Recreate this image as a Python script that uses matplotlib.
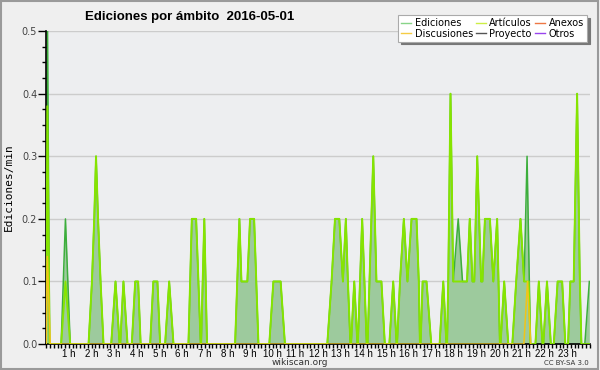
import matplotlib
matplotlib.use("Agg")
import matplotlib.pyplot as plt
from matplotlib.lines import Line2D
from matplotlib.patches import Rectangle
from matplotlib.ticker import MultipleLocator, FixedLocator

# horas (vertices de la curva) y ediciones/min
horas = [
    0.0, 0.05, 0.15,
    0.66, 0.85, 1.06,
    1.87, 2.02, 2.12, 2.2, 2.29, 2.4, 2.53,
    2.87, 3.06, 3.24,
    3.27, 3.41, 3.59,
    3.78, 3.93, 4.06, 4.17,
    4.59, 4.73, 4.91, 5.03,
    5.25, 5.43, 5.62,
    6.28, 6.43, 6.62, 6.82,
    6.84, 6.98, 7.1,
    8.34, 8.53, 8.62, 8.88, 9.0, 9.18, 9.37,
    9.85, 10.03, 10.35, 10.54,
    12.41, 12.6, 12.75, 12.94, 13.1, 13.23, 13.32, 13.43,
    13.46, 13.6, 13.74,
    13.76, 13.95, 14.15,
    14.19, 14.44, 14.58, 14.8, 14.95,
    15.15, 15.32, 15.47,
    15.49, 15.62, 15.79, 15.95, 16.13, 16.35, 16.45, 16.5,
    16.53, 16.62, 16.79, 17.0,
    17.37, 17.53, 17.67,
    17.7, 17.75, 17.85, 17.97, 18.19, 18.38, 18.58, 18.7, 18.82, 18.9,
    19.03, 19.2, 19.26, 19.37, 19.59, 19.74, 19.91, 20.03,
    20.06, 20.22, 20.4,
    20.58, 20.75, 20.94, 21.1, 21.23, 21.3, 21.38,
    21.6, 21.75, 21.91,
    21.95, 22.11, 22.28,
    22.41, 22.58, 22.78, 22.92,
    23.04, 23.14, 23.29, 23.44, 23.56, 23.63,
    23.78, 23.98,
]
ediciones = [
    0, 0.55, 0,
    0, 0.2, 0,
    0, 0.1, 0.2, 0.3, 0.2, 0.1, 0,
    0, 0.1, 0,
    0, 0.1, 0,
    0, 0.1, 0.1, 0,
    0, 0.1, 0.1, 0,
    0, 0.1, 0,
    0, 0.2, 0.2, 0,
    0, 0.2, 0,
    0, 0.2, 0.1, 0.1, 0.2, 0.2, 0,
    0, 0.1, 0.1, 0,
    0, 0.1, 0.2, 0.2, 0.1, 0.2, 0.1, 0,
    0, 0.1, 0,
    0, 0.2, 0,
    0, 0.3, 0.1, 0.1, 0,
    0, 0.1, 0,
    0, 0.1, 0.2, 0.1, 0.2, 0.2, 0.1, 0,
    0, 0.1, 0.1, 0,
    0, 0.1, 0,
    0, 0.1, 0.4, 0.1, 0.2, 0.1, 0.1, 0.2, 0.1, 0.1,
    0.3, 0.1, 0.1, 0.2, 0.2, 0.1, 0.2, 0,
    0, 0.1, 0,
    0, 0.1, 0.2, 0.1, 0.3, 0.16, 0,
    0, 0.1, 0,
    0, 0.1, 0,
    0, 0.1, 0.1, 0,
    0, 0.1, 0.1, 0.4, 0.1, 0,
    0, 0.1,
]
articulos = [
    0, 0.38, 0,
    0, 0.1, 0,
    0, 0.1, 0.2, 0.3, 0.2, 0.1, 0,
    0, 0.1, 0,
    0, 0.1, 0,
    0, 0.1, 0.1, 0,
    0, 0.1, 0.1, 0,
    0, 0.1, 0,
    0, 0.2, 0.2, 0,
    0, 0.2, 0,
    0, 0.2, 0.1, 0.1, 0.2, 0.2, 0,
    0, 0.1, 0.1, 0,
    0, 0.1, 0.2, 0.2, 0.1, 0.2, 0.1, 0,
    0, 0.1, 0,
    0, 0.2, 0,
    0, 0.3, 0.1, 0.1, 0,
    0, 0.1, 0,
    0, 0.1, 0.2, 0.1, 0.2, 0.2, 0.1, 0,
    0, 0.1, 0.1, 0,
    0, 0.1, 0,
    0, 0.1, 0.4, 0.1, 0.1, 0.1, 0.1, 0.2, 0.1, 0.1,
    0.3, 0.1, 0.1, 0.2, 0.2, 0.1, 0.2, 0,
    0, 0.1, 0,
    0, 0.1, 0.2, 0.1, 0.1, 0.1, 0,
    0, 0.1, 0,
    0, 0.1, 0,
    0, 0.1, 0.1, 0,
    0, 0.1, 0.1, 0.4, 0.1, 0,
    0, 0,
]
horas_disc = [0.0, 0.05, 0.18, 21.09, 21.25, 21.39]
discusiones = [0, 0.14, 0, 0, 0.1, 0]

assert len(horas) == len(ediciones) == len(articulos)

etiquetas_x = [f"{h} h" for h in range(1, 24)]

fig = plt.figure(figsize=(6, 3.7), dpi=100, facecolor="#efefef")
ax = fig.add_axes([0.077, 0.070, 0.906, 0.846])
ax.set_facecolor("#edeef0")

# grid horizontal
for v in [0.1, 0.2, 0.3, 0.4, 0.5]:
    ax.axhline(v, color="#cccccc", lw=1, zorder=0)

ax.fill_between(horas, ediciones, color="#9dca9d", lw=0, zorder=1)
ax.plot(horas, ediciones, color="#3cae3c", lw=1.1, zorder=2)
ax.plot(horas, articulos, color="#86e400", lw=1.4, zorder=3)
ax.plot(horas_disc, discusiones, color="#f0c419", lw=1.1, zorder=4)

ax.set_xlim(0, 24)
ax.set_ylim(0, 0.5)

ax.xaxis.set_major_locator(FixedLocator(range(1, 24)))
ax.xaxis.set_minor_locator(MultipleLocator(1 / 6))
ax.set_xticklabels(etiquetas_x, family="Liberation Sans")
ax.yaxis.set_major_locator(MultipleLocator(0.1))
ax.yaxis.set_minor_locator(MultipleLocator(0.025))
ax.yaxis.set_major_formatter(plt.FormatStrFormatter("%.1f"))

ax.tick_params(axis="x", which="both", length=3, width=1, pad=0.5,
               labelsize=7, colors="black")
ax.tick_params(axis="y", which="major", length=5.5, width=1, pad=1,
               labelsize=7, labelcolor="#444444")
ax.tick_params(axis="y", which="minor", length=3, width=1)

for s in ["top", "right"]:
    ax.spines[s].set_visible(False)
for s in ["left", "bottom"]:
    ax.spines[s].set_linewidth(1.2)

ax.set_ylabel("Ediciones/min", family="DejaVu Sans Mono", fontsize=8, labelpad=6)

fig.text(0.142, 0.955, "Ediciones por ámbito  2016-05-01", fontsize=9.5,
         family="Liberation Sans", fontweight="bold", va="center", ha="left")

fig.text(0.5, 0.020, "wikiscan.org", fontsize=6.5, ha="center", va="center",
         color="#333333")
fig.text(0.982, 0.020, "CC BY-SA 3.0", fontsize=5, ha="right", va="center",
         color="#333333")

# leyenda
handles = [
    Line2D([], [], color="#88d488", lw=1),
    Line2D([], [], color="#f5cc44", lw=1),
    Line2D([], [], color="#ccee44", lw=1),
    Line2D([], [], color="#555555", lw=1),
    Line2D([], [], color="#ee7744", lw=1),
    Line2D([], [], color="#9944ee", lw=1),
]
nombres = ["Ediciones", "Discusiones", "Artículos", "Proyecto", "Anexos", "Otros"]
leg = fig.legend(handles, nombres, ncol=3, loc="upper right",
                 bbox_to_anchor=(0.986, 0.972), fontsize=7, frameon=True,
                 fancybox=False, shadow={"color": "#777777", "alpha": 1},
                 handlelength=1.0, handletextpad=0.4, columnspacing=0.3,
                 labelspacing=0.05, borderpad=0.3)
leg.get_frame().set_edgecolor("#aaaaaa")
leg.get_frame().set_linewidth(0.8)

fig.add_artist(Rectangle((0.002, 0.003), 0.995, 0.994, transform=fig.transFigure,
                         fill=False, edgecolor="#9a9a9a", lw=1.5))

fig.savefig("out.png", dpi=100, facecolor=fig.get_facecolor())
